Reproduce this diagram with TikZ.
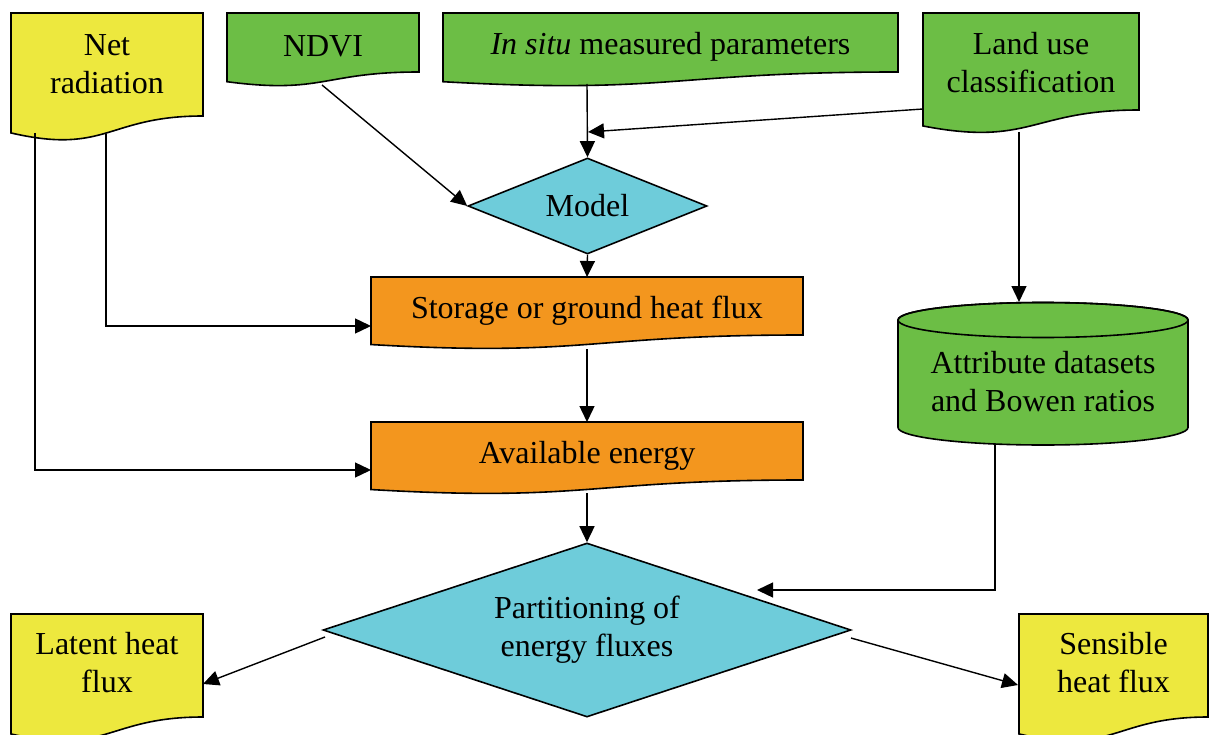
\documentclass[tikz,border=0pt]{standalone}
\usepackage{fontspec}
\setmainfont{Liberation Serif}
\usetikzlibrary{shapes.geometric,arrows.meta}
\definecolor{cYel}{RGB}{237,232,62}
\definecolor{cGrn}{RGB}{108,190,69}
\definecolor{cOrg}{RGB}{243,150,30}
\definecolor{cCyn}{RGB}{110,204,218}
% document shape: x0, top, x1, yr (right bottom), fill
\newcommand\docshape[5]{%
  \pgfmathsetmacro\dh{#4-#2}%
  \filldraw[outline, fill=#5] (#1,#2) -- (#3,#2) -- (#3,#4)
    .. controls ({(#1+#3)/2},#4) and ({(#1+#3)/2},{#4+0.380*\dh}) ..
    (#1,{#4+0.1646*\dh}) -- cycle;}
\begin{document}
\begin{tikzpicture}[x=1pt,y=-1pt,
  outline/.style={draw=black,line width=1.6pt,line join=miter},
  conn/.style={draw=black,line width=1.4pt,-{Triangle[length=16pt,width=15pt]}},
  txt/.style={font=\fontsize{32}{38}\selectfont,align=center,inner sep=0pt,
    text=black,shape=rectangle},
  dia/.style={shape=diamond,outline,fill=cCyn,inner sep=0pt,
    font=\fontsize{32}{38}\selectfont,align=center}]
\useasboundingbox (0,0) rectangle (1209,735);
\clip (0,0) rectangle (1209,735);

% ---- shapes ----
\docshape{11}{13}{203}{116}{cYel}
\docshape{227}{13}{419}{72}{cGrn}
\docshape{443}{13}{898}{72}{cGrn}
\docshape{923}{13}{1139}{110}{cGrn}
\docshape{371}{277}{803}{335}{cOrg}
\docshape{371}{422}{803}{480}{cOrg}
\docshape{11}{614}{203}{717}{cYel}
\docshape{1019}{614}{1208}{717}{cYel}

% cylinder
\filldraw[outline,fill=cGrn] (898,320) -- (898,427.5)
  arc[start angle=180,end angle=0,x radius=145,y radius=17.5]
  -- (1188,320)
  arc[start angle=0,end angle=-180,x radius=145,y radius=17.5] -- cycle;
\draw[outline] (1043,320) ellipse[x radius=145,y radius=17.5];

% ---- text nodes ----
\node[txt,minimum width=192pt,minimum height=103pt] (net) at (107,64.5) {Net\\radiation};
\node[txt,minimum width=192pt,minimum height=59pt] (ndvi) at (323,46) {NDVI};
\node[txt,minimum width=455pt,minimum height=59pt] (insitu) at (670.5,47) {\textit{In situ} measured parameters};
\node[txt,minimum width=216pt,minimum height=97pt] (land) at (1031,63) {Land use\\classification};
\node[txt,minimum width=432pt,minimum height=58pt] (stor) at (587,311) {Storage or ground heat flux};
\node[txt,minimum width=432pt,minimum height=58pt] (avail) at (587,456) {Available energy};
\node[txt,minimum width=192pt,minimum height=103pt] (latent) at (107,663) {Latent heat\\flux};
\node[txt,minimum width=189pt,minimum height=103pt] (sens) at (1113.5,663) {Sensible\\heat flux};
\node[txt,minimum width=290pt,minimum height=107pt] (attr) at (1043,382) {Attribute datasets\\and Bowen ratios};

\node[dia,minimum width=239pt,minimum height=96pt,shape aspect=2.5] (model) at (587.5,206) {Model};
\node[dia,minimum width=528pt,minimum height=174pt,shape aspect=3.03] (part) at (587,630) {\raisebox{-3pt}{\parbox{300pt}{\centering Partitioning of\\energy fluxes}}};

% ---- connection points ----
\coordinate (ndviout) at (322,85);
\coordinate (insituout) at (587,84);
\coordinate (landout) at (923,109);
\coordinate (join) at (588,132);
\coordinate (landdown) at (1019,132);
\coordinate (netA) at (106,134);
\coordinate (netB) at (35,133);
\coordinate (storN) at (587,277);
\coordinate (storW) at (371,326);
\coordinate (storout) at (587,349);
\coordinate (availN) at (587,422);
\coordinate (availW) at (371,470);
\coordinate (availout) at (587,493);
\coordinate (cylbot) at (995,445);
\coordinate (cyltop) at (1019,302);
\coordinate (partin) at (757,590);
\coordinate (partL) at (325,637);
\coordinate (partR) at (851,638);
\coordinate (latin) at (203,684);
\coordinate (sensin) at (1018,685);

% ---- connectors ----
\draw[conn] (ndviout) -- (model.west);
\draw[conn] (insituout) -- (model.north);
\draw[conn] (landout) -- (join);
\draw[conn] (model.south) -- (storN);
\draw[conn] (storout) -- (availN);
\draw[conn] (availout) -- (part.north);
\draw[conn] (netA) |- (storW);
\draw[conn] (netB) |- (availW);
\draw[conn] (landdown) -- (cyltop);
\draw[conn] (cylbot) |- (partin);
\draw[conn] (partL) -- (latin);
\draw[conn] (partR) -- (sensin);
\end{tikzpicture}
\end{document}
